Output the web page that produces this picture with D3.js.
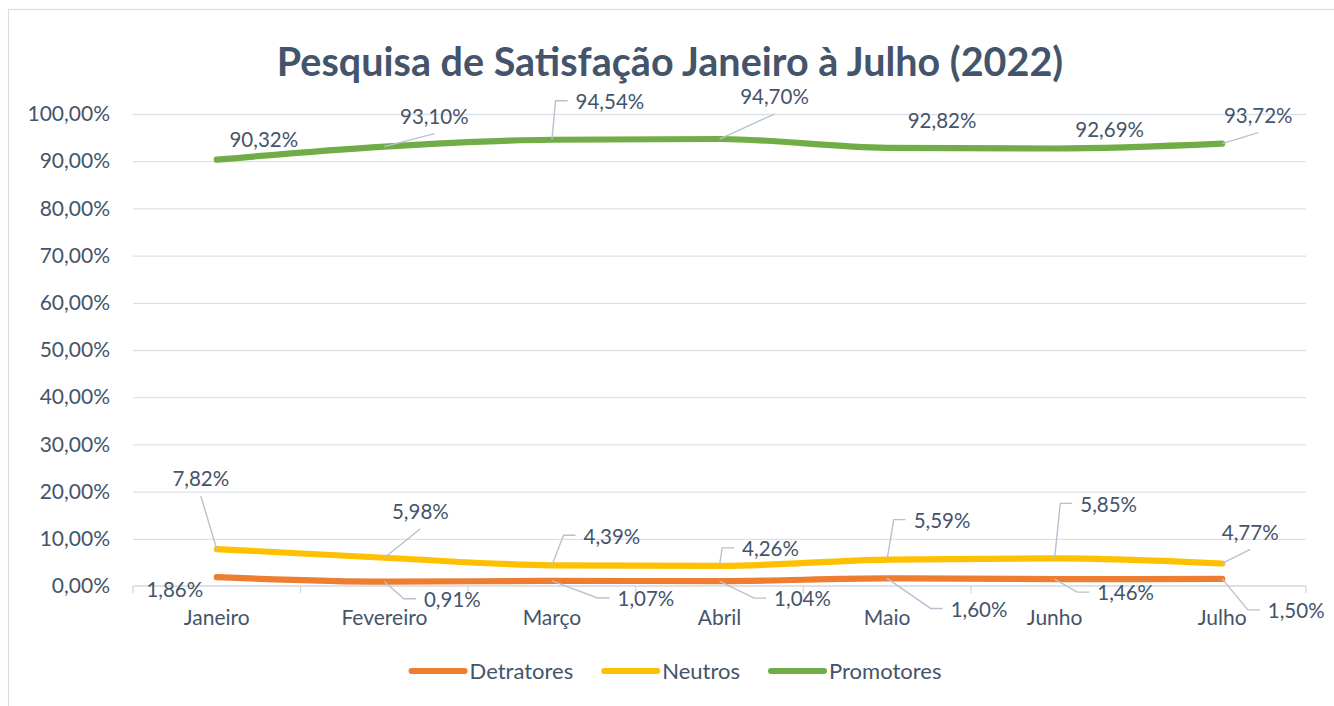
<!DOCTYPE html>
<html>
<head>
<meta charset="utf-8">
<script src="https://cdn.jsdelivr.net/npm/d3@7"></script>
<style>
  html, body { margin: 0; padding: 0; background: #ffffff; }
  svg { display: block; font-family: Lato, "Open Sans", sans-serif; }
</style>
</head>
<body>
<svg id="chart" width="1334" height="706"></svg>
<script>
// ---- data ----
const title = "Pesquisa de Satisfação Janeiro à Julho (2022)";
const months = ["Janeiro", "Fevereiro", "Março", "Abril", "Maio", "Junho", "Julho"];
const detratores = [1.86, 0.91, 1.07, 1.04, 1.60, 1.46, 1.50];
const neutros    = [7.82, 5.98, 4.39, 4.26, 5.59, 5.85, 4.77];
const promotores = [90.32, 93.10, 94.54, 94.70, 92.82, 92.69, 93.72];
const seriesNames = ["Detratores", "Neutros", "Promotores"];
const yTicks = [0, 10, 20, 30, 40, 50, 60, 70, 80, 90, 100];

// ---- label placement (offset of label centre from its point, and leader style) ----
const labelOffsets = {
  Detratores: [[-42, 12, "none"], [68, 18, "left"], [94, 18, "left"], [83, 18, "left"], [92, 31, "left"], [71, 14, "left"], [74, 32, "left"]],
  Neutros:    [[-16, -70, "bottom"], [36, -46, "bottom"], [60, -29, "left"], [51, -17, "left"], [55, -39, "left"], [54, -54, "left"], [28, -31, "bottom"]],
  Promotores: [[47, -20, "none"], [50, -30, "bottom"], [58, -38, "left"], [55, -42, "bottom"], [55, -27, "none"], [55, -19, "none"], [36, -28, "bottom"]]
};

const colors = { Detratores: "#ED7D31", Neutros: "#FFC000", Promotores: "#70AD47" };
const textColor = "#44546A";
const gridColor = "#dde2e8";
const leaderColor = "#b8c2cf";

const locale = d3.formatLocale({ decimal: ",", thousands: ".", grouping: [3], currency: ["R$", ""] });
const fmt = v => locale.format(".2f")(v) + "%";

const svg = d3.select("#chart");
const plotLeft = 133, plotRight = 1306, plotTop = 114, plotBottom = 586;

const x = d3.scaleBand().domain(months).range([plotLeft, plotRight]).paddingInner(0).paddingOuter(0);
const y = d3.scaleLinear().domain([0, 100]).range([plotBottom, plotTop]);

// chart border
svg.append("rect")
  .attr("x", 8.5).attr("y", 9.5).attr("width", 1340).attr("height", 720)
  .attr("fill", "#fff").attr("stroke", "#d9dde3").attr("stroke-width", 1.2);

// title
svg.append("text")
  .attr("x", 670).attr("y", 76)
  .attr("text-anchor", "middle")
  .attr("font-weight", 700)
  .attr("font-size", 39.5)
  .attr("fill", textColor)
  .text(title);

// gridlines
svg.append("g")
  .attr("transform", `translate(${plotLeft},0)`)
  .call(d3.axisLeft(y).tickValues(yTicks.filter(t => t > 0)).tickSize(-(plotRight - plotLeft)).tickFormat(""))
  .call(g => g.select(".domain").remove())
  .call(g => g.selectAll("line").attr("stroke", gridColor).attr("stroke-width", 1.3));

// y labels
svg.append("g")
  .attr("transform", `translate(${plotLeft - 23},0)`)
  .call(d3.axisLeft(y).tickValues(yTicks).tickSize(0).tickPadding(0).tickFormat(fmt))
  .call(g => g.select(".domain").remove())
  .call(g => g.selectAll("text").attr("fill", textColor).attr("font-size", 21).attr("font-family", "Lato, sans-serif"));

// x axis line + boundary ticks
const xAxisG = svg.append("g");
xAxisG.append("line")
  .attr("x1", plotLeft).attr("x2", plotRight).attr("y1", y(0)).attr("y2", y(0))
  .attr("stroke", "#d3d8df").attr("stroke-width", 1.3);
const boundaries = months.map(m => x(m)).concat([x(months[months.length - 1]) + x.bandwidth()]);
xAxisG.selectAll("line.tk").data(boundaries).join("line")
  .attr("class", "tk")
  .attr("x1", d => d).attr("x2", d => d)
  .attr("y1", y(0)).attr("y2", y(0) + 7)
  .attr("stroke", "#d3d8df").attr("stroke-width", 1.3);

// x labels
svg.append("g")
  .attr("transform", `translate(0,${y(0) + 32})`)
  .call(d3.axisBottom(x).tickSize(0).tickPadding(0))
  .call(g => g.select(".domain").remove())
  .call(g => g.selectAll("text").attr("fill", textColor).attr("font-size", 21).attr("font-family", "Lato, sans-serif").attr("dy", "0.35em"));

// series
const seriesData = { Detratores: detratores, Neutros: neutros, Promotores: promotores };
const line = d3.line()
  .x((d, i) => x(months[i]) + x.bandwidth() / 2)
  .y(d => y(d))
  .curve(d3.curveMonotoneX);

const linesG = svg.append("g");
const leadersG = svg.append("g");
const labelsG = svg.append("g");

seriesNames.forEach(name => {
  const vals = seriesData[name];
  linesG.append("path")
    .datum(vals)
    .attr("d", line)
    .attr("fill", "none")
    .attr("stroke", colors[name])
    .attr("stroke-width", 6.2)
    .attr("stroke-linecap", "round")
    .attr("stroke-linejoin", "round");

  vals.forEach((v, i) => {
    const px = x(months[i]) + x.bandwidth() / 2;
    const py = y(v);
    const [dx, dy, kind] = labelOffsets[name][i];
    const cx = px + dx, cy = py + dy;
    const t = labelsG.append("text")
      .attr("x", cx).attr("y", cy)
      .attr("dy", "0.36em")
      .attr("text-anchor", "middle")
      .attr("font-size", 20.5)
      .attr("fill", textColor)
      .text(fmt(v));
    const w = t.node().getComputedTextLength();
    let pts = null;
    if (kind === "left") {
      const ex = cx - w / 2 - 8;
      pts = [[px, py], [ex - 12, cy - 1], [ex, cy - 1]];
    } else if (kind === "bottom") {
      pts = [[px, py], [cx, cy + 17]];
    }
    if (pts) {
      leadersG.append("path")
        .attr("d", d3.line()(pts))
        .attr("fill", "none")
        .attr("stroke", leaderColor)
        .attr("stroke-width", 1.4);
    }
  });
});

// legend
const legendG = svg.append("g");
const legendY = 671;
const items = seriesNames.map(name => {
  const g = legendG.append("g");
  g.append("line")
    .attr("x1", 3).attr("x2", 56).attr("y1", 0).attr("y2", 0)
    .attr("stroke", colors[name]).attr("stroke-width", 6).attr("stroke-linecap", "round");
  const t = g.append("text")
    .attr("x", 61).attr("y", 0).attr("dy", "0.36em")
    .attr("font-size", 22).attr("fill", textColor)
    .text(name);
  return { g, w: 61 + t.node().getComputedTextLength() };
});
const gap = 28;
const total = d3.sum(items, d => d.w) + gap * (items.length - 1);
let cur = 675 - total / 2;
items.forEach(it => {
  it.g.attr("transform", `translate(${cur},${legendY})`);
  cur += it.w + gap;
});
</script>
</body>
</html>
